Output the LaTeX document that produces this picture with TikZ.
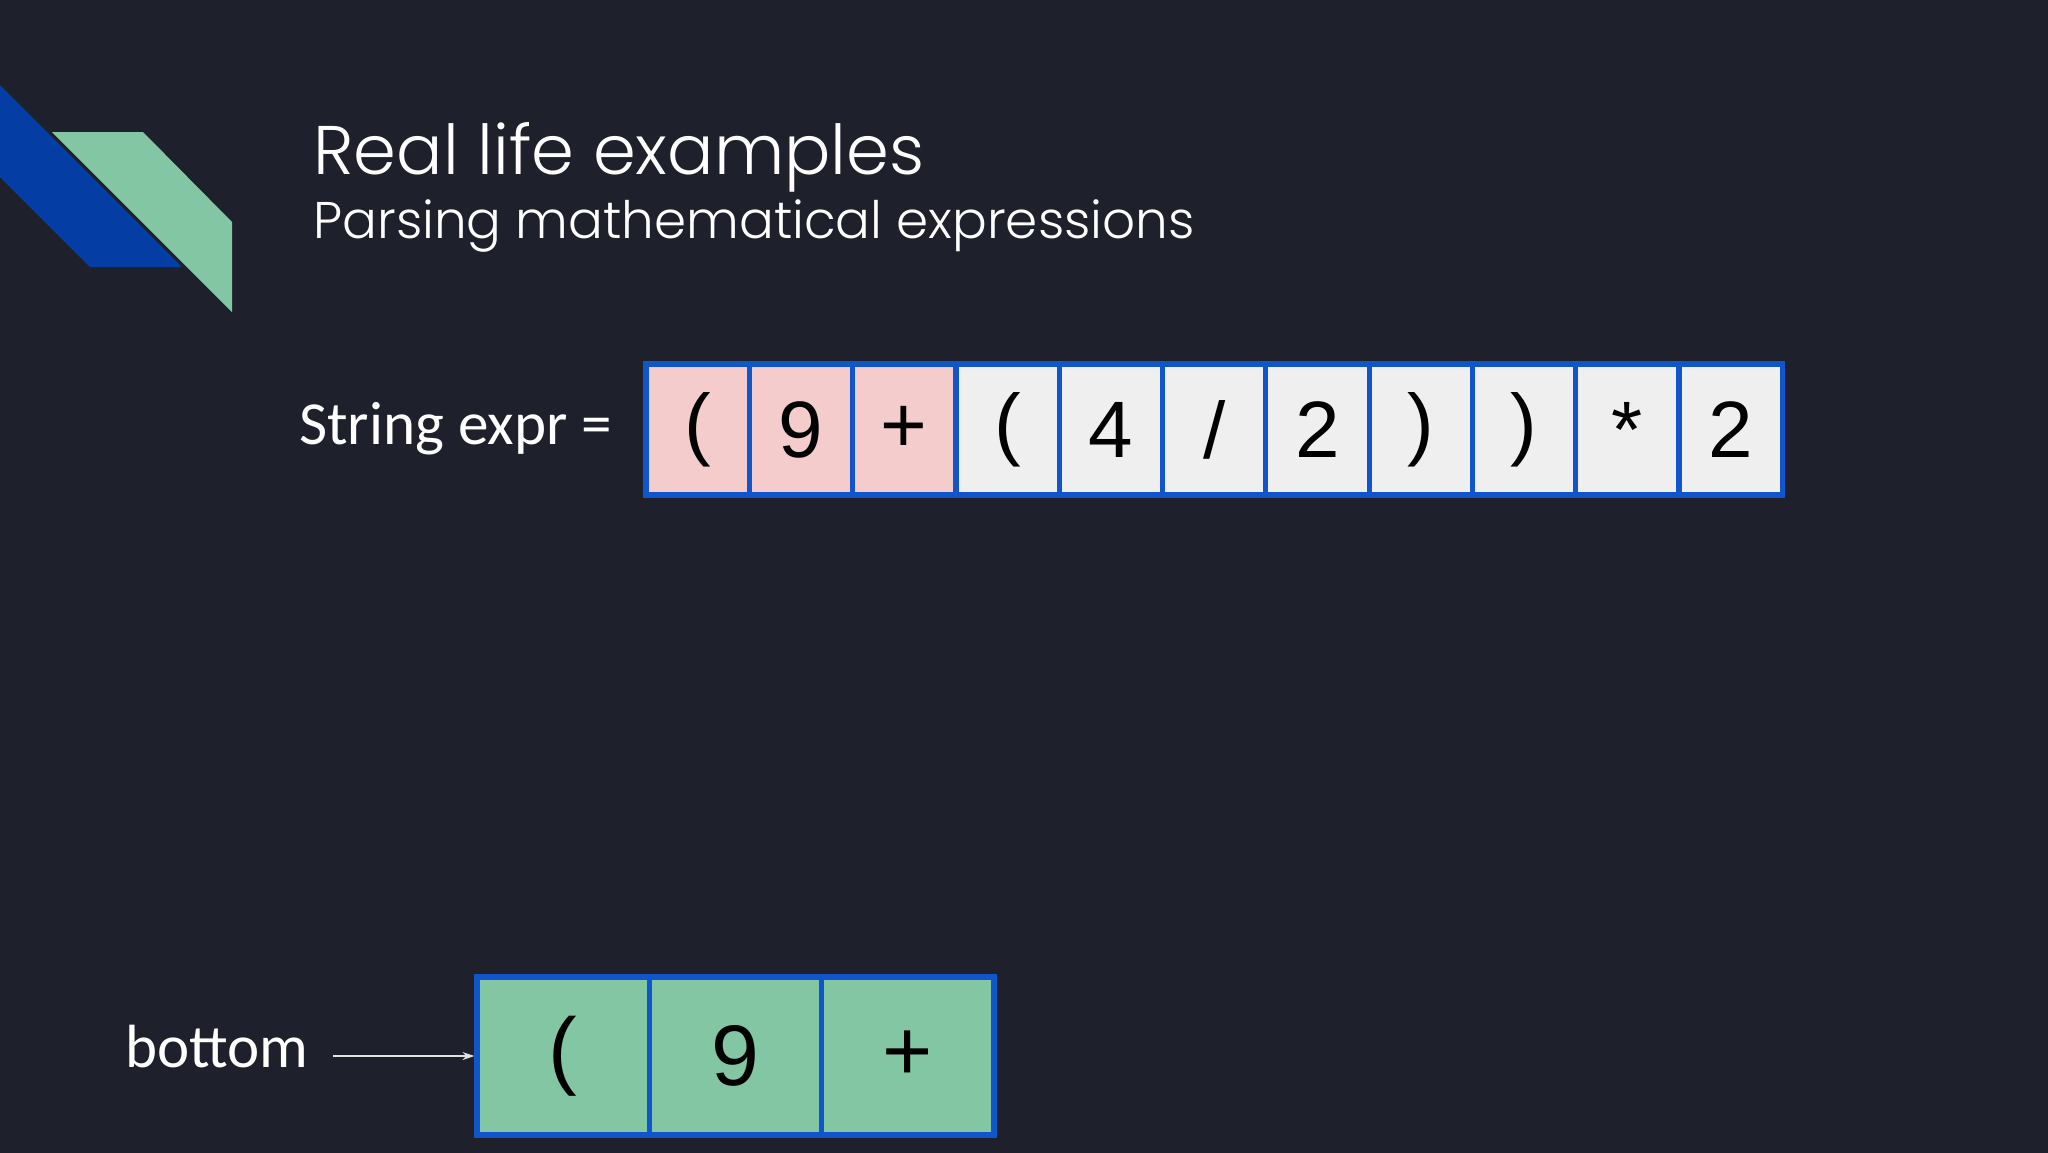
\documentclass[tikz,border=0pt]{standalone}
\usepackage{fontspec}
\setmainfont{Liberation Sans}
\IfFontExistsTF{Poppins Light}{\newfontfamily\titlefont{Poppins Light}}{\newfontfamily\titlefont{Poppins}}
\newfontfamily\labelfont{Carlito}
\newfontfamily\cellfont{Liberation Sans}
\usetikzlibrary{arrows.meta}
\definecolor{bg}{RGB}{30,32,43}
\definecolor{decoblue}{RGB}{4,62,165}
\definecolor{decogreen}{RGB}{130,198,164}
\definecolor{cellpink}{RGB}{244,204,204}
\definecolor{cellgray}{RGB}{239,239,239}
\definecolor{cellgreen}{RGB}{130,198,164}
\definecolor{cellborder}{RGB}{17,85,204}
\definecolor{arrowgray}{RGB}{225,225,225}
\tikzset{
  topcell/.style={draw=cellborder, line width=2.6pt, minimum width=51.65pt, minimum height=65.5pt, inner sep=0pt, font=\cellfont\fontsize{40}{40}\selectfont, text=black},
  pinkcell/.style={topcell, fill=cellpink},
  graycell/.style={topcell, fill=cellgray},
  botcell/.style={draw=cellborder, line width=2.6pt, fill=cellgreen, minimum width=86.15pt, minimum height=79pt, inner sep=0pt, font=\cellfont\fontsize{43}{43}\selectfont, text=black},
  whitetext/.style={text=white, inner sep=0pt},
}
\begin{document}
\begin{tikzpicture}[x=0.5pt, y=-0.5pt]
\useasboundingbox (0,0) rectangle (2048,1152);
\fill[bg] (-10,-10) rectangle (2058,1162);
% decoration
\fill[decoblue] (0,85) -- (182,267) -- (90,267) -- (0,177) -- cycle;
\fill[decogreen] (52,132) -- (143,132) -- (232,222) -- (232,312) -- cycle;
% titles
\node[whitetext, anchor=base west, font=\titlefont\fontsize{34.4}{34.4}\selectfont] (title) at (313,174) {Real life examples};
\node[whitetext, anchor=base west, font=\titlefont\fontsize{25.8}{25.8}\selectfont] (subtitle) at (313,238) {Parsing mathematical expressions};
% string label
\node[whitetext, anchor=base west, font=\labelfont\fontsize{30.6}{30.6}\selectfont] (strlbl) at (299,444) {String expr =};
% top array
\node[pinkcell] (t0) at ({646+51.65+0*103.3},429.5) {(};
\node[pinkcell] (t1) at ({646+51.65+1*103.3},429.5) {9};
\node[pinkcell] (t2) at ({646+51.65+2*103.3},429.5) {+};
\node[graycell] (t3) at ({646+51.65+3*103.3},429.5) {(};
\node[graycell] (t4) at ({646+51.65+4*103.3},429.5) {4};
\node[graycell] (t5) at ({646+51.65+5*103.3},429.5) {/};
\node[graycell] (t6) at ({646+51.65+6*103.3},429.5) {2};
\node[graycell] (t7) at ({646+51.65+7*103.3},429.5) {)};
\node[graycell] (t8) at ({646+51.65+8*103.3},429.5) {)};
\node[graycell] (t9) at ({646+51.65+9*103.3},429.5) {*};
\node[graycell] (t10) at ({646+51.65+10*103.3},429.5) {2};
% bottom array
\node[botcell] (b1) at ({477+86.15},1056) {(};
\node[botcell] (b2) at ({477+3*86.15},1056) {9};
\node[botcell] (b3) at ({477+5*86.15},1056) {+};
\node[whitetext, anchor=base west, font=\labelfont\fontsize{30.5}{30.5}\selectfont] (botlbl) at (125,1067) {bottom};
\coordinate (arrstart) at (333,1056);
\draw[arrowgray, line width=0.8pt, -{Stealth[length=6pt,width=4pt]}] (arrstart) -- (b1.west);
\end{tikzpicture}
\end{document}
